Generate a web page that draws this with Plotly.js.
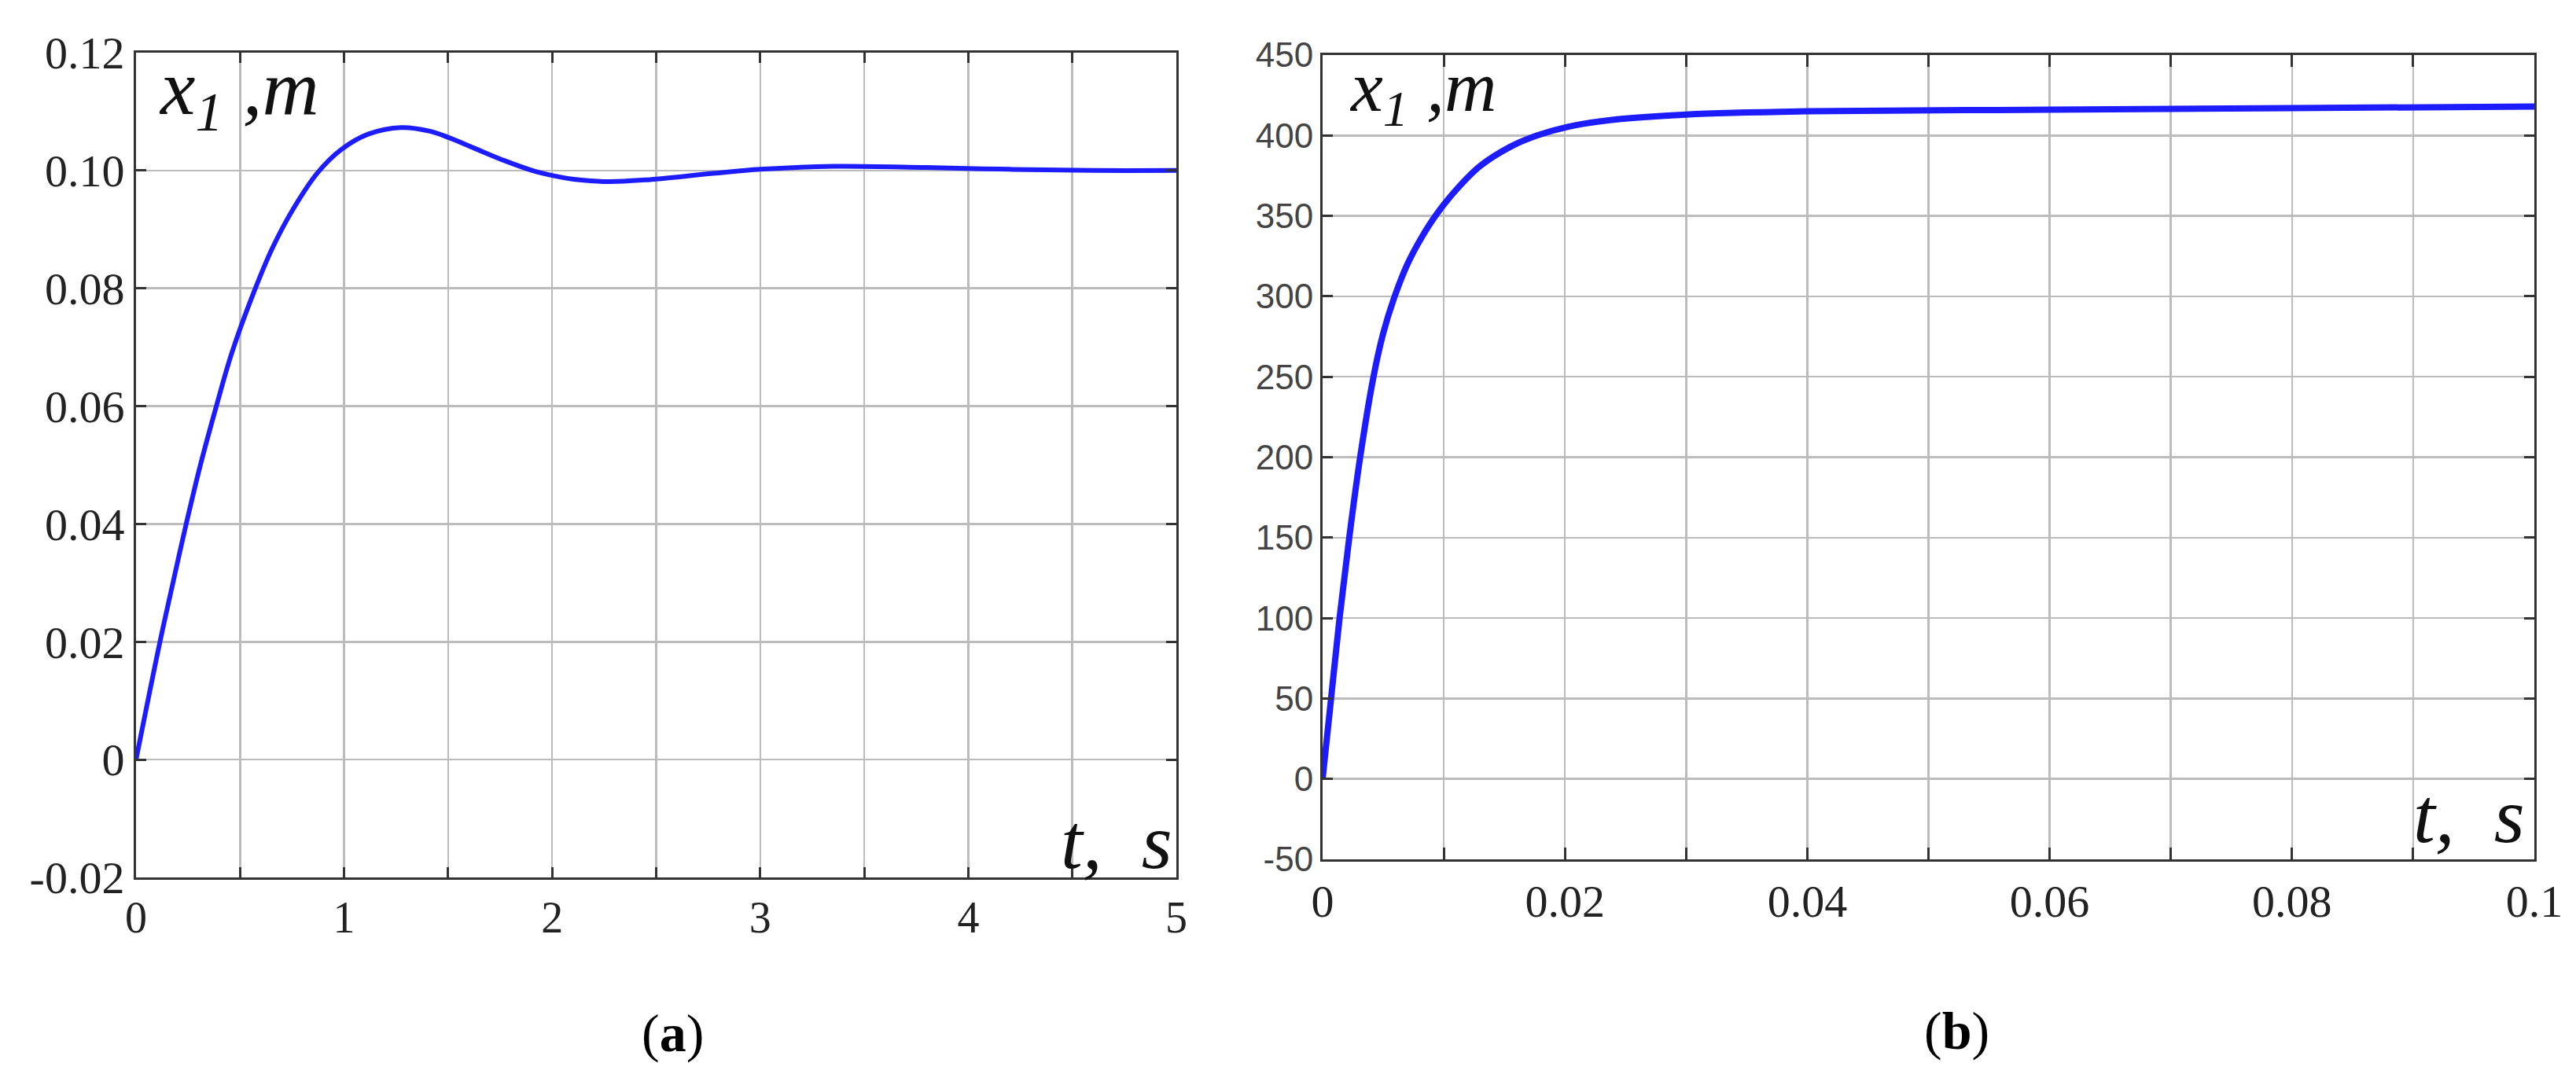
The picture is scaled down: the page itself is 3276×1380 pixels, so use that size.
<!DOCTYPE html>
<html>
<head>
<meta charset="utf-8">
<script src="https://cdn.plot.ly/plotly-3.0.1.min.js"></script>
<style>
  html, body { margin: 0; padding: 0; background: #fff; }
  #chart { width: 3276px; height: 1380px; }
</style>
</head>
<body>
<div id="chart"></div>
<script>
// (a) x1 over t, 0..5 s
const tA = [0, 0.115, 0.178, 0.241, 0.310, 0.386, 0.460, 0.568, 0.655, 0.756, 0.872, 0.988,
            1.118, 1.278, 1.408, 1.502, 1.625, 1.769, 1.914, 2.008, 2.131, 2.276, 2.446, 2.772,
            3.0, 3.354, 3.8, 4.2, 4.6, 5.0];
const xA = [0, 0.0200, 0.0301, 0.0400, 0.0501, 0.0600, 0.0690, 0.0795, 0.0868, 0.0935, 0.0996, 0.1036,
            0.1062, 0.1073, 0.1067, 0.1056, 0.1038, 0.1017, 0.0999, 0.0991, 0.0984, 0.0981, 0.0984, 0.0995,
            0.1002, 0.1007, 0.1005, 0.1002, 0.1000, 0.1000];

// (b) x1 over t, 0..0.1 s
const tB = [0, 0.0007, 0.0014, 0.0022, 0.0031, 0.0042, 0.0050, 0.0059, 0.0070, 0.0082, 0.0094,
            0.0110, 0.0130, 0.0155, 0.0177, 0.0203, 0.0243, 0.030, 0.040, 0.060, 0.080, 0.100];
const xB = [0, 50, 100, 150, 200, 250, 277, 299, 320, 337, 351,
            366, 381, 393, 400, 405.5, 410, 413, 415, 416, 417, 418];

// ticks
const xTicksA = [0, 1, 2, 3, 4, 5];
const xLabelsA = ['0', '1', '2', '3', '4', '5'];
const yTicksA = [-0.02, 0, 0.02, 0.04, 0.06, 0.08, 0.10, 0.12];
const yLabelsA = ['-0.02', '0', '0.02', '0.04', '0.06', '0.08', '0.10', '0.12'];
const xTicksB = [0, 0.02, 0.04, 0.06, 0.08, 0.1];
const xLabelsB = ['0', '0.02', '0.04', '0.06', '0.08', '0.1'];
const yTicksB = [-50, 0, 50, 100, 150, 200, 250, 300, 350, 400, 450];
const yLabelsB = ['-50', '0', '50', '100', '150', '200', '250', '300', '350', '400', '450'];

const W = 3276, H = 1380;
const px = v => v / W;
const py = v => 1 - v / H;

const GRID = '#bcbcbc';
const FRAME = '#333';
const BLUE = '#1c1cff';
const SERIF = 'Liberation Serif, Times New Roman, serif';
const SANS = 'Liberation Sans Narrow, Liberation Sans, Arial, sans-serif';

function axisBase(extra) {
  return Object.assign({
    showgrid: true, gridcolor: GRID, gridwidth: 2.5,
    zeroline: false,
    showline: true, linecolor: FRAME, linewidth: 3, mirror: 'ticks',
    ticks: 'inside', ticklen: 13, tickwidth: 3, tickcolor: FRAME,
    tickmode: 'array', fixedrange: true,
  }, extra);
}

const traces = [
  { x: tA, y: xA, xaxis: 'x', yaxis: 'y', type: 'scatter', mode: 'lines',
    line: { color: BLUE, width: 6, shape: 'spline', smoothing: 1 }, hoverinfo: 'skip' },
  { x: tB, y: xB, xaxis: 'x2', yaxis: 'y2', type: 'scatter', mode: 'lines',
    line: { color: BLUE, width: 8, shape: 'spline', smoothing: 1 }, hoverinfo: 'skip' },
];

const layout = {
  width: W, height: H,
  margin: { l: 0, r: 0, t: 0, b: 0 },
  paper_bgcolor: '#fff', plot_bgcolor: '#fff',
  showlegend: false,
  xaxis: axisBase({
    domain: [px(173), px(1496)], range: [0, 5], anchor: 'y',
    tickvals: xTicksA, ticktext: xLabelsA,
    tickfont: { family: SERIF, size: 56, color: '#222' },
    minor: { dtick: 0.5, showgrid: true, gridcolor: GRID, gridwidth: 2.5,
             ticks: 'inside', ticklen: 13, tickwidth: 3, tickcolor: FRAME },
  }),
  yaxis: axisBase({
    domain: [py(1116), py(67)], range: [-0.02, 0.12], anchor: 'x',
    tickvals: yTicksA, ticktext: yLabelsA,
    tickfont: { family: SERIF, size: 58, color: '#222' },
  }),
  xaxis2: axisBase({
    domain: [px(1682), px(3223)], range: [0, 0.1], anchor: 'y2',
    tickvals: xTicksB, ticktext: xLabelsB,
    tickfont: { family: SERIF, size: 58, color: '#222' },
    minor: { dtick: 0.01, showgrid: true, gridcolor: GRID, gridwidth: 2.5,
             ticks: 'inside', ticklen: 15, tickwidth: 3, tickcolor: FRAME },
  }),
  yaxis2: axisBase({
    domain: [py(1093), py(70)], range: [-50, 450], anchor: 'x2',
    tickvals: yTicksB, ticktext: yLabelsB,
    tickfont: { family: SANS, size: 44, color: '#444' },
  }),
  annotations: [
    { xref: 'paper', yref: 'paper', x: px(200), y: py(119), xanchor: 'left', yanchor: 'middle',
      text: '<i>x</i><sub><i>1</i></sub><i> ,m</i>', showarrow: false,
      font: { family: SERIF, size: 100, color: '#111' } },
    { xref: 'paper', yref: 'paper', x: px(1714), y: py(116), xanchor: 'left', yanchor: 'middle',
      text: '<i>x</i><sub><i>1</i></sub><i> ,m</i>', showarrow: false,
      font: { family: SERIF, size: 92, color: '#111' } },
    { xref: 'paper', yref: 'paper', x: px(1347), y: py(1070), xanchor: 'left', yanchor: 'middle',
      text: '<i>t,&nbsp;&nbsp;s</i>', showarrow: false,
      font: { family: SERIF, size: 100, color: '#111' } },
    { xref: 'paper', yref: 'paper', x: px(3067), y: py(1037), xanchor: 'left', yanchor: 'middle',
      text: '<i>t,&nbsp;&nbsp;s</i>', showarrow: false,
      font: { family: SERIF, size: 100, color: '#111' } },
    { xref: 'paper', yref: 'paper', x: px(855), y: py(1314), xanchor: 'center', yanchor: 'middle',
      text: '(<b>a</b>)', showarrow: false,
      font: { family: SERIF, size: 68, color: '#000' } },
    { xref: 'paper', yref: 'paper', x: px(2488), y: py(1311), xanchor: 'center', yanchor: 'middle',
      text: '(<b>b</b>)', showarrow: false,
      font: { family: SERIF, size: 68, color: '#000' } },
  ],
};

Plotly.newPlot('chart', traces, layout, { displayModeBar: false, staticPlot: true });
</script>
</body>
</html>
